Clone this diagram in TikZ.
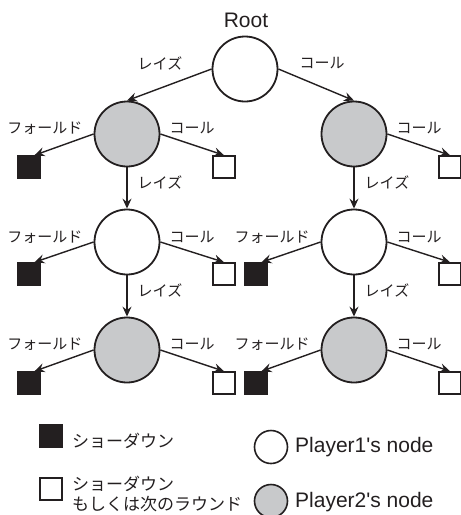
\documentclass[tikz,border=0pt]{standalone}
\usepackage{fontspec}
\setmainfont{Liberation Sans}
\newfontfamily\jp{Noto Sans CJK JP}
\usetikzlibrary{arrows.meta}
\definecolor{nodegray}{HTML}{C8C9CB}
\definecolor{leafblack}{HTML}{231F20}
\tikzset{
  pone/.style={circle, draw=leafblack, line width=1.8pt, fill=white, minimum size=65pt, inner sep=0pt},
  ptwo/.style={pone, fill=nodegray},
  showdown/.style={rectangle, draw=leafblack, line width=1.6pt, fill=leafblack, minimum size=22pt, inner sep=0pt},
  nextround/.style={showdown, fill=white},
  edge/.style={draw=leafblack, line width=1.4pt, -{Stealth[length=10pt,width=9pt,inset=3.5pt]}},
  lbl/.style={font=\jp\fontsize{15}{17}\selectfont, inner sep=0pt, text=leafblack},
  leg/.style={font=\fontsize{21}{24}\selectfont, inner sep=0pt, text=leafblack},
  legjp/.style={font=\jp\fontsize{17}{19.5}\selectfont, inner sep=0pt, text=leafblack, align=left},
}
\begin{document}
\begin{tikzpicture}[x=1pt, y=-1pt]
\useasboundingbox (0,0) rectangle (461,515);
% tree nodes
\node[leg, anchor=base] (rootlbl) at (246,27) {Root};
\node[pone] (root) at (245,69) {};
\node[ptwo] (a) at (127,134) {};
\node[ptwo] (b) at (354,134) {};
\node[pone] (c) at (127,242) {};
\node[pone] (d) at (354,242) {};
\node[ptwo] (e) at (127,350) {};
\node[ptwo] (f) at (354,350) {};
% leaves
\node[showdown] (a1) at (29,167) {};
\node[nextround] (a2) at (224,167) {};
\node[nextround] (b2) at (450,167) {};
\node[showdown] (c1) at (29,274) {};
\node[nextround] (c2) at (224,274) {};
\node[showdown] (d1) at (256,274) {};
\node[nextround] (d2) at (450,274) {};
\node[showdown] (e1) at (29,383) {};
\node[nextround] (e2) at (224,383) {};
\node[showdown] (f1) at (256,383) {};
\node[nextround] (f2) at (450,383) {};
% edges
\draw[edge] (root.west) -- (a.north);
\draw[edge] (root.east) -- (b.north);
\draw[edge] (a.west) -- (a1.65);
\draw[edge] (a.east) -- (a2.north);
\draw[edge] (b.east) -- (b2.north);
\draw[edge] (a.south) -- (c.north);
\draw[edge] (b.south) -- (d.north);
\draw[edge] (c.west) -- (c1.65);
\draw[edge] (c.east) -- (c2.north);
\draw[edge] (d.west) -- (d1.65);
\draw[edge] (d.east) -- (d2.north);
\draw[edge] (c.south) -- (e.north);
\draw[edge] (d.south) -- (f.north);
\draw[edge] (e.west) -- (e1.65);
\draw[edge] (e.east) -- (e2.north);
\draw[edge] (f.west) -- (f1.65);
\draw[edge] (f.east) -- (f2.north);
% edge labels
\node[lbl] (l1) at (160,63) {レイズ};
\node[lbl] (l2) at (322,63) {コール};
\node[lbl] (l3) at (45,128) {フォールド};
\node[lbl] (l4) at (192,128) {コール};
\node[lbl] (l5) at (419,128) {コール};
\node[lbl] (l6) at (160,182) {レイズ};
\node[lbl] (l7) at (387,182) {レイズ};
\node[lbl] (l8) at (45,237) {フォールド};
\node[lbl] (l9) at (192,237) {コール};
\node[lbl] (l10) at (272,237) {フォールド};
\node[lbl] (l11) at (419,237) {コール};
\node[lbl] (l12) at (160,290) {レイズ};
\node[lbl] (l13) at (387,290) {レイズ};
\node[lbl] (l14) at (45,344) {フォールド};
\node[lbl] (l15) at (192,344) {コール};
\node[lbl] (l16) at (272,344) {フォールド};
\node[lbl] (l17) at (419,344) {コール};
% legend
\node[showdown] (k1) at (51,436) {};
\node[legjp, anchor=west] (k1t) at (72,441) {ショーダウン};
\node[nextround] (k2) at (51,489) {};
\node[legjp, anchor=west] (k2t) at (72,494) {ショーダウン\\もしくは次のラウンド};
\node[pone, minimum size=33pt, line width=1.6pt] (k3) at (271,447) {};
\node[leg, anchor=base west] (k3t) at (295,452) {Player1\textquotesingle s node};
\node[ptwo, minimum size=33pt, line width=1.6pt] (k4) at (271,501) {};
\node[leg, anchor=base west] (k4t) at (295,507) {Player2\textquotesingle s node};
\end{tikzpicture}
\end{document}
